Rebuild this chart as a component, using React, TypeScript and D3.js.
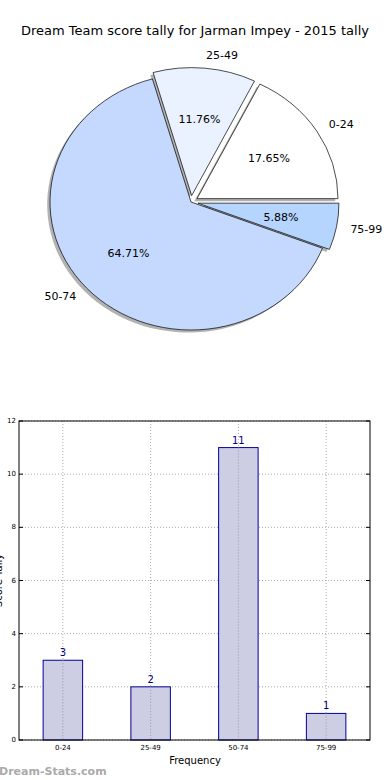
import React from 'react';
import * as d3 from 'd3';

const categories = ['0-24', '25-49', '50-74', '75-99'];
const counts = [3, 2, 11, 1];
const pieColors = ['#ffffff', '#eaf2ff', '#c5d9ff', '#b5d5ff'];
const explode = [0.05, 0.05, 0, 0.05];
const yTicks = [0, 2, 4, 6, 8, 10, 12];

const W = 390;
const H = 780;

// pie geometry (axes were not square, so it's an ellipse)
const cx = 191;
const cy = 202;
const rx = 141;
const ry = 128;

const pt = (ox: number, oy: number, a: number, k: number) => [ox + rx * k * Math.cos(a), oy - ry * k * Math.sin(a)];

const slicePath = (ox: number, oy: number, a0: number, a1: number) => {
  const [x0, y0] = pt(ox, oy, a0, 1);
  const [x1, y1] = pt(ox, oy, a1, 1);
  const large = a1 - a0 > Math.PI ? 1 : 0;
  return `M${ox},${oy}L${x0},${y0}A${rx},${ry} 0 ${large} 0 ${x1},${y1}Z`;
};

const margin = { left: 19, right: 20, top: 421, bottom: 40 };

export default function App() {
  const total = d3.sum(counts);
  const arcs = d3.pie<number>().sort(null).startAngle(0).endAngle(2 * Math.PI)(counts);

  const slices = arcs.map((d, i) => {
    const mid = (d.startAngle + d.endAngle) / 2;
    const [ox, oy] = pt(cx, cy, mid, explode[i]);
    const [px, py] = pt(ox, oy, mid, 0.6);
    const [lx, ly] = pt(ox, oy, mid, 1.1);
    return { d, i, ox, oy, mid, px, py, lx, ly };
  });

  const x = d3.scaleBand<string>().domain(categories).range([margin.left, W - margin.right]).paddingInner(0).paddingOuter(0);
  const y = d3.scaleLinear().domain([0, 12]).range([H - margin.bottom, margin.top]);
  const barW = x.bandwidth() * 0.45;
  const font = 'DejaVu Sans, sans-serif';

  return (
    <svg width={W} height={H} style={{ position: 'absolute', left: 0, top: 0, background: '#fff' }} fontFamily={font}>
      <text x={195} y={35} textAnchor="middle" fontSize={13}>
        Dream Team score tally for Jarman Impey - 2015 tally
      </text>

      {/* shadows */}
      {slices.map(s => (
        <path key={'sh' + s.i} d={slicePath(s.ox - 0.02 * rx, s.oy + 0.02 * ry, s.d.startAngle, s.d.endAngle)}
          fill="#666" fillOpacity={0.5} stroke="none" />
      ))}
      {slices.map(s => (
        <path key={'sl' + s.i} d={slicePath(s.ox, s.oy, s.d.startAngle, s.d.endAngle)}
          fill={pieColors[s.i]} stroke="#000" strokeWidth={0.7} strokeLinejoin="round" />
      ))}
      {slices.map(s => (
        <g key={'lb' + s.i} fontSize={11}>
          <text x={s.px} y={s.py} textAnchor="middle" dominantBaseline="central">
            {((s.d.value / total) * 100).toFixed(2)}%
          </text>
          <text x={s.lx} y={s.ly} textAnchor={Math.cos(s.mid) > 0 ? 'start' : 'end'} dominantBaseline="central">
            {categories[s.i]}
          </text>
        </g>
      ))}

      {/* bar chart */}
      <g>
        {yTicks.map(t => (
          <line key={'gy' + t} x1={margin.left} x2={W - margin.right} y1={y(t)} y2={y(t)}
            stroke="#aaa" strokeWidth={1} strokeDasharray="1,2" />
        ))}
        {categories.map(c => (
          <line key={'gx' + c} x1={x(c)! + x.bandwidth() / 2} x2={x(c)! + x.bandwidth() / 2} y1={margin.top} y2={H - margin.bottom}
            stroke="#aaa" strokeWidth={1} strokeDasharray="1,2" />
        ))}
        {categories.map((c, i) => (
          <rect key={'b' + c} x={x(c)! + x.bandwidth() / 2 - barW / 2} y={y(counts[i])} width={barW}
            height={y(0) - y(counts[i])} fill="#cdcde4" stroke="#000099" strokeWidth={1} />
        ))}
        {categories.map((c, i) => (
          <line key={'gx2' + c} x1={x(c)! + x.bandwidth() / 2} x2={x(c)! + x.bandwidth() / 2} y1={y(counts[i])} y2={H - margin.bottom}
            stroke="#999" strokeWidth={1} strokeDasharray="1,2" />
        ))}
        {categories.map((c, i) => (
          <text key={'v' + c} x={x(c)! + x.bandwidth() / 2} y={y(counts[i]) - 4} textAnchor="middle" fontSize={10} fill="#000080">
            {counts[i]}
          </text>
        ))}
        <rect x={margin.left} y={margin.top} width={W - margin.right - margin.left} height={H - margin.bottom - margin.top}
          fill="none" stroke="#000" strokeWidth={1} />
        {yTicks.map(t => (
          <g key={'ty' + t}>
            <line x1={margin.left} x2={margin.left + 4} y1={y(t)} y2={y(t)} stroke="#000" />
            <line x1={W - margin.right - 4} x2={W - margin.right} y1={y(t)} y2={y(t)} stroke="#000" />
            <text x={margin.left - 3} y={y(t)} textAnchor="end" dominantBaseline="central" fontSize={7}>{t}</text>
          </g>
        ))}
        {categories.map(c => (
          <text key={'tx' + c} x={x(c)! + x.bandwidth() / 2} y={H - margin.bottom + 10} textAnchor="middle" fontSize={7}>{c}</text>
        ))}
        <text x={195} y={764} textAnchor="middle" fontSize={10}>Frequency</text>
        <text transform={`translate(2,${(margin.top + H - margin.bottom) / 2}) rotate(-90)`} textAnchor="middle" fontSize={10}>
          Score Tally
        </text>
      </g>
      <text x={-1} y={775} fontSize={11} fontWeight="bold" fill="#aaa">Dream-Stats.com</text>
    </svg>
  );
}
